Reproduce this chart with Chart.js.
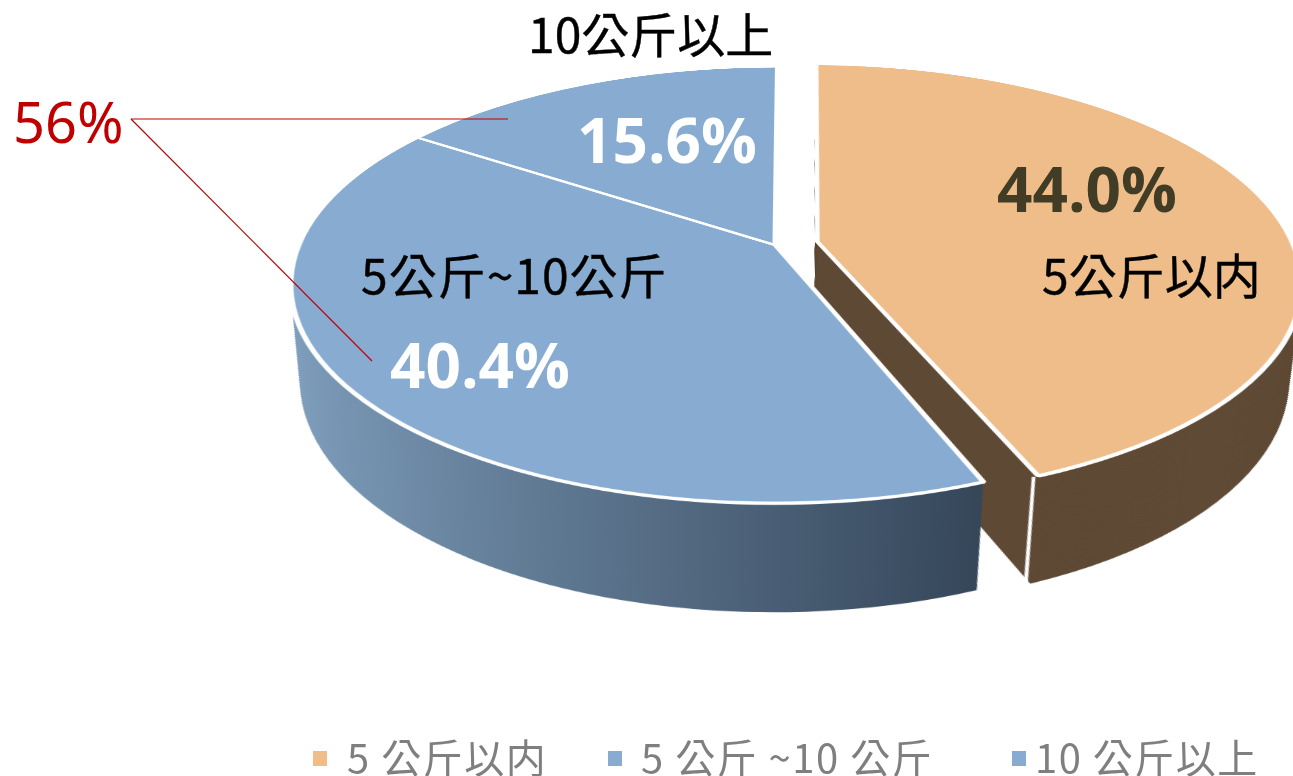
<!DOCTYPE html>
<html>
	<head>
		<meta charset="UTF-8" />
		<title>Pie</title>
		<script src="https://cdnjs.cloudflare.com/ajax/libs/Chart.js/4.4.1/chart.umd.js"></script>
		<style>
			html, body{
				margin: 0;
				padding: 0;
				width: 1293px;
				height: 776px;
				overflow: hidden;
				background: #fff;
			}
			#stage{
				position: relative;
				width: 1293px;
				height: 776px;
				overflow: hidden;
			}
			/* canvas is the flat pie, tilted so the centre stays on (775,245) */
			#pieBox{
				position: absolute;
				left: -25px;
				top: -555px;
				width: 1600px;
				height: 1600px;
				transform-origin: 800px 800px;
				transform: perspective(2326px) rotateX(63.7deg);
			}
			.txt{
				position: absolute;
				white-space: nowrap;
				transform: translateY(-50%);
				line-height: 1;
			}
			.cat{
				font-family: "Noto Sans CJK TC", sans-serif;
				font-size: 48px;
				color: #000;
				-webkit-text-stroke: 0.4px #000;
			}
			.pct{
				font-family: "Open Sans", sans-serif;
				font-weight: 700;
				font-size: 62px;
				filter: blur(0.6px);
			}
			.leg{
				font-family: "Noto Sans CJK TC", sans-serif;
				font-size: 40px;
				letter-spacing: 1.5px;
				color: #7f7f7f;
				filter: blur(0.5px);
			}
			.mark{
				position: absolute;
				width: 14px;
				height: 15px;
				top: 751px;
				filter: blur(0.5px);
			}
		</style>
	</head>
	<body>
		<div id="stage">
			<div id="pieBox"><canvas id="pie" width="1600" height="1600"></canvas></div>
			<svg id="lines" width="1293" height="776" style="position:absolute;left:0;top:0"></svg>
		</div>

		<script>
			// values
			var categories = ['5公斤以内', '5公斤~10公斤', '10公斤以上'];
			var legendLabels = ['5 公斤以内', '5 公斤 ~10 公斤', '10 公斤以上'];
			var shareValues = [44.0, 40.4, 15.6];
			var calloutLabel = '56%';

			// looks
			var topColors = ['#efbd89', '#88acd1', '#88acd1'];
			var pctColors = ['#403c25', '#ffffff', '#ffffff'];
			var explode = [172, 0, 0]; // arc draws offset/4
			var catPos = [[1042, 273], [361, 273], [528, 32]];
			var catSpacing = [0, 1, 0];
			var pctPos = [[997, 188], [390, 364], [577, 139]];
			var legendMarkX = [313, 608, 1012];
			var legendTextX = [347, 641, 1035];

			var RADIUS = 476;
			var DEPTH = 198;     // bottom disc shift on the flat canvas
			var DEPTH_X = -1;
			var SHRINK = 0.096;  // bottom disc is further from the eye
			var LAYERS = 200;

			function wallStyle(ctx, cx, i){
				if(i == 0) return '#5f4a35';
				var g = ctx.createLinearGradient(cx - 480, 0, cx + 175, 0);
				g.addColorStop(0, '#81a1c0');
				g.addColorStop(1, '#354659');
				return g;
			}

			// side walls: the same arcs stacked below the top face
			var wallPlugin = {
				id: 'walls',
				afterDatasetsUpdate: function(chart){
					var arc = chart.getDatasetMeta(0).data[0];
					var off = explode[0] / 4;
					arc.outerRadius = RADIUS - off * (1 - Math.sin(Math.min(Math.PI, arc.circumference)));
				},
				beforeDatasetsDraw: function(chart){
					var ctx = chart.ctx;
					var arcs = chart.getDatasetMeta(0).data;
					var cx = arcs[0].x, cy = arcs[0].y;

					arcs.forEach(function(arc, i){
						var keep = arc.options;
						arc.options = Object.assign({}, keep, {
							backgroundColor: wallStyle(ctx, cx, i),
							borderWidth: 0
						});
						for(var n = LAYERS; n > 0; n--){
							var f = n / LAYERS;
							var k = 1 - SHRINK * f;
							ctx.save();
							ctx.translate(cx + DEPTH_X * f, cy + DEPTH * f);
							ctx.scale(k, k);
							ctx.translate(-cx, -cy);
							arc.draw(ctx);
							ctx.restore();
						}
						arc.options = keep;
					});

					// white corner edge on the exploded slice
					var a = arcs[0];
					var mid = (a.startAngle + a.endAngle) / 2;
					var s = explode[0] / 4;
					var r = RADIUS;
					var px = Math.cos(mid) * s + Math.cos(a.endAngle) * r;
					var py = Math.sin(mid) * s + Math.sin(a.endAngle) * r;
					var k2 = 1 - SHRINK;
					ctx.save();
					ctx.strokeStyle = '#fff';
					ctx.lineWidth = 3;
					ctx.beginPath();
					ctx.moveTo(cx + px, cy + py);
					ctx.lineTo(cx + DEPTH_X + px * k2, cy + DEPTH + py * k2);
					ctx.stroke();
					ctx.restore();
				}
			};

			new Chart(document.getElementById('pie'), {
				type: 'pie',
				data: {
					labels: categories,
					datasets: [{
						data: shareValues,
						backgroundColor: topColors,
						borderColor: '#ffffff',
						borderWidth: 5,
						offset: explode
					}]
				},
				options: {
					responsive: false,
					animation: false,
					radius: RADIUS,
					rotation: 0.3,
					layout: {padding: 0},
					plugins: {
						legend: {display: false},
						tooltip: {enabled: false}
					}
				},
				plugins: [wallPlugin]
			});

			// labels
			var stage = document.getElementById('stage');
			function addText(cls, str, x, y, color, spacing){
				var d = document.createElement('div');
				d.className = 'txt ' + cls;
				d.textContent = str;
				d.style.left = x + 'px';
				d.style.top = y + 'px';
				if(color) d.style.color = color;
				if(spacing) d.style.letterSpacing = spacing + 'px';
				stage.appendChild(d);
			}

			categories.forEach(function(c, i){
				addText('cat', c, catPos[i][0], catPos[i][1], null, catSpacing[i]);
				addText('pct', shareValues[i].toFixed(1) + '%', pctPos[i][0], pctPos[i][1], pctColors[i]);
				addText('leg', legendLabels[i], legendTextX[i], 756);
				var m = document.createElement('div');
				m.className = 'mark';
				m.style.left = legendMarkX[i] + 'px';
				m.style.background = topColors[i];
				stage.appendChild(m);
			});

			// 56% callout
			var calloutDiv = document.createElement('div');
			calloutDiv.className = 'txt';
			calloutDiv.textContent = calloutLabel;
			calloutDiv.style.cssText = 'left:13px;top:121px;font-family:"Noto Sans",sans-serif;font-size:56px;color:#c00000';
			stage.appendChild(calloutDiv);
			document.getElementById('lines').innerHTML =
				'<line x1="131" y1="119" x2="508" y2="119" stroke="#c00000" stroke-width="1.2"/>' +
				'<line x1="131" y1="119" x2="372" y2="361" stroke="#c00000" stroke-width="1.2"/>';
		</script>
	</body>
</html>
